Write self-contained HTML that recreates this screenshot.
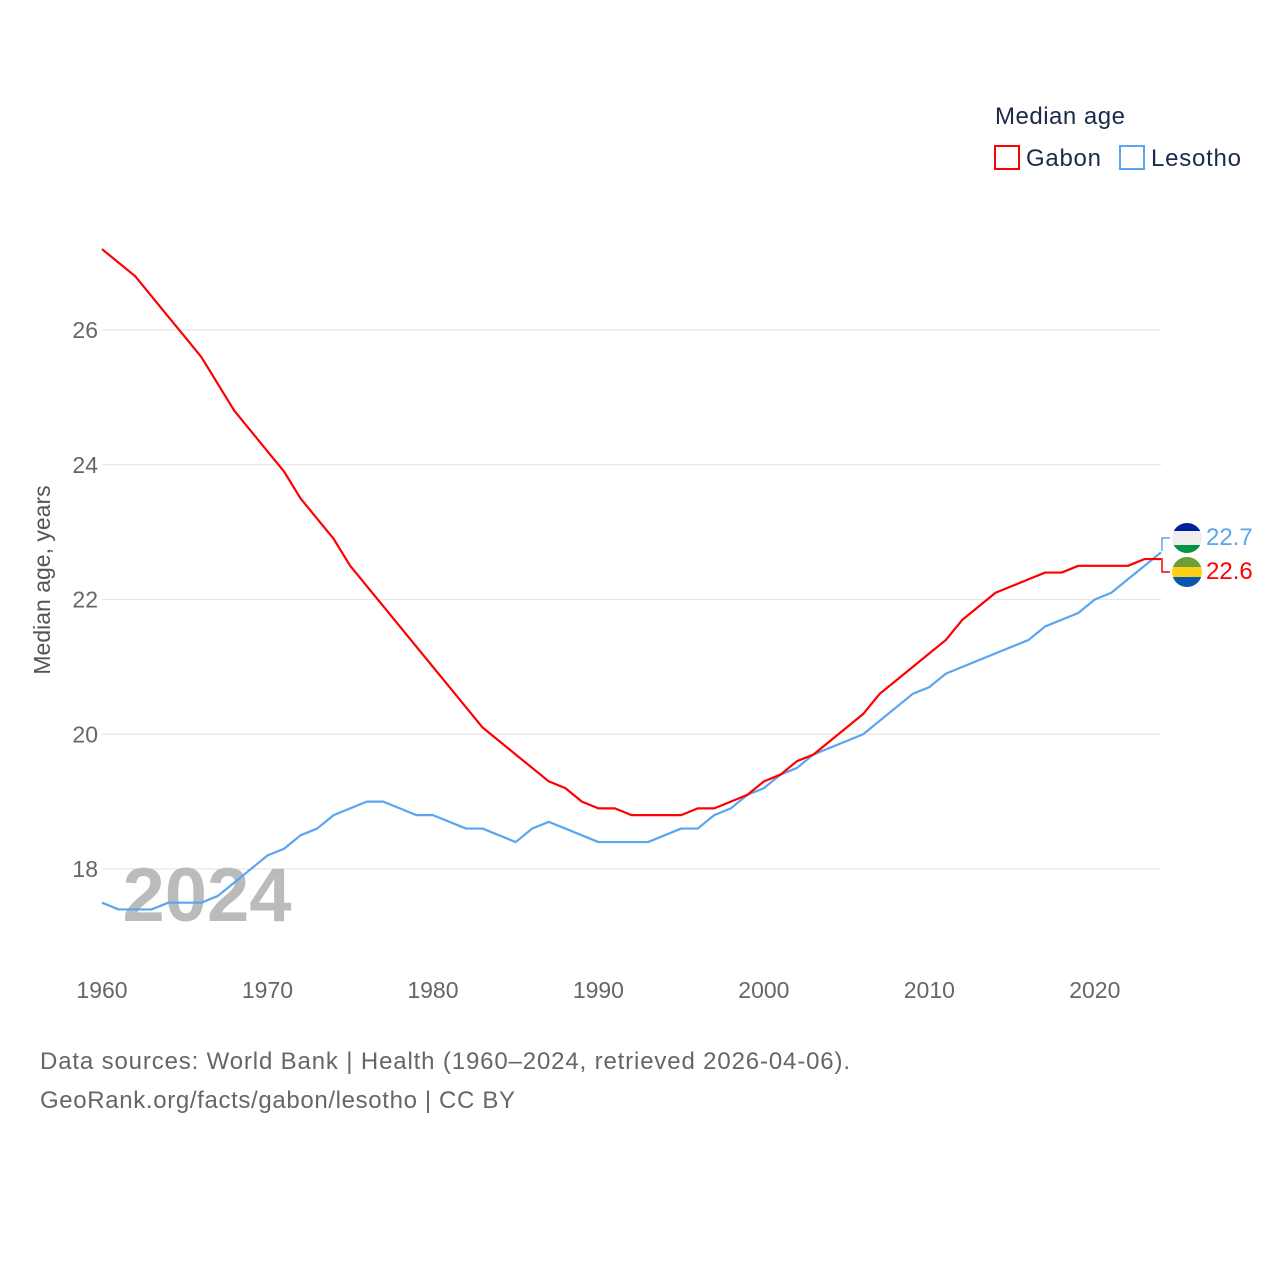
<!DOCTYPE html>
<html><head><meta charset="utf-8"><style>
body{margin:0;background:#fff;width:1280px;height:1280px;overflow:hidden;font-family:"Liberation Sans",sans-serif}
</style></head><body>
<svg id="chart" width="1280" height="1280" xmlns="http://www.w3.org/2000/svg" style="font-family:'Liberation Sans',sans-serif">
<g id="grid"></g>
<g id="yticks"></g>
<g id="xticks"></g>
<text x="207" y="921" font-size="76" font-weight="bold" fill="#bbb" text-anchor="middle">2024</text>
<text transform="translate(50,580) rotate(-90)" font-size="23" fill="#555" text-anchor="middle">Median age, years</text>
<g id="lines"></g>
<g>
<text x="995" y="124" font-size="24" fill="#1a2a4a" textLength="130">Median age</text>
<g><rect x="995" y="146" width="24" height="23" fill="none" stroke="#f00" stroke-width="2"/><text x="1026" y="166" font-size="24" fill="#1a2a4a" textLength="75">Gabon</text></g>
<g><rect x="1120" y="146" width="24" height="23" fill="none" stroke="#5aa5f0" stroke-width="2"/><text x="1151" y="166" font-size="24" fill="#1a2a4a" textLength="90">Lesotho</text></g>
</g>
<g>
<circle cx="1187" cy="538" r="15" fill="#eee"/>
<clipPath id="c1"><circle cx="1187" cy="538" r="15"/></clipPath>
<rect x="1172" y="523" width="30" height="8" fill="#00209f" clip-path="url(#c1)"/>
<rect x="1172" y="545" width="30" height="8" fill="#009543" clip-path="url(#c1)"/>
<circle cx="1187" cy="572" r="15" fill="#fcd116"/>
<clipPath id="c2"><circle cx="1187" cy="572" r="15"/></clipPath>
<rect x="1172" y="557" width="30" height="10" fill="#6a9f3a" clip-path="url(#c2)"/>
<rect x="1172" y="577" width="30" height="10" fill="#0a57b0" clip-path="url(#c2)"/>
<text x="1206" y="545" font-size="24" fill="#5aa5f0">22.7</text>
<text x="1206" y="579" font-size="24" fill="#f00">22.6</text>
<path d="M1162,551 V538 H1170" fill="none" stroke="#5aa5f0" stroke-width="1.5"/>
<path d="M1162,558 V572 H1170" fill="none" stroke="#f00" stroke-width="1.5"/>
</g>
<text x="40" y="1069" font-size="24" fill="#666" textLength="810">Data sources: World Bank | Health (1960–2024, retrieved 2026-04-06).</text>
<text x="40" y="1108" font-size="24" fill="#666" textLength="475">GeoRank.org/facts/gabon/lesotho | CC BY</text>
</svg>
<script>
const years=[];for(let y=1960;y<=2024;y++)years.push(y);
const gabon=[27.2,27.0,26.8,26.5,26.2,25.9,25.6,25.2,24.8,24.5,24.2,23.9,23.5,23.2,22.9,22.5,22.2,21.9,21.6,21.3,21.0,20.7,20.4,20.1,19.9,19.7,19.5,19.3,19.2,19.0,18.9,18.9,18.8,18.8,18.8,18.8,18.9,18.9,19.0,19.1,19.3,19.4,19.6,19.7,19.9,20.1,20.3,20.6,20.8,21.0,21.2,21.4,21.7,21.9,22.1,22.2,22.3,22.4,22.4,22.5,22.5,22.5,22.5,22.6,22.6];
const lesotho=[17.5,17.4,17.4,17.4,17.5,17.5,17.5,17.6,17.8,18.0,18.2,18.3,18.5,18.6,18.8,18.9,19.0,19.0,18.9,18.8,18.8,18.7,18.6,18.6,18.5,18.4,18.6,18.7,18.6,18.5,18.4,18.4,18.4,18.4,18.5,18.6,18.6,18.8,18.9,19.1,19.2,19.4,19.5,19.7,19.8,19.9,20.0,20.2,20.4,20.6,20.7,20.9,21.0,21.1,21.2,21.3,21.4,21.6,21.7,21.8,22.0,22.1,22.3,22.5,22.7];
const yTicks=[18,20,22,24,26];
const xTicks=[1960,1970,1980,1990,2000,2010,2020];
const NS="http://www.w3.org/2000/svg";
const x=v=>102+(v-1960)*(1161-102)/64;
const y=v=>869-(v-18)*(869-330)/8;
function mk(tag,attrs,parent){const e=document.createElementNS(NS,tag);for(const k in attrs)e.setAttribute(k,attrs[k]);parent.appendChild(e);return e;}
const grid=document.getElementById('grid'),yt=document.getElementById('yticks'),xt=document.getElementById('xticks'),lines=document.getElementById('lines');
yTicks.forEach(t=>{
 const l=mk('line',{x1:102,x2:1161,y1:y(t),y2:y(t),stroke:'#e6e6e6','stroke-width':1.2},grid);
 
 
 const tx=mk('text',{x:98,y:y(t)+8,'font-size':23,fill:'#666','text-anchor':'end'},yt);tx.textContent=t;
 
 
});
xTicks.forEach(t=>{
 const tx=mk('text',{x:x(t),y:998,'font-size':23,fill:'#666','text-anchor':'middle'},xt);tx.textContent=t;
 
 
});
function line(vals,color,name){
 const p=mk('polyline',{points:vals.map((v,i)=>x(years[i])+','+y(v)).join(' '),fill:'none',stroke:color,'stroke-width':2.2,'stroke-linejoin':'round'},lines);
 
 
}
line(lesotho,'#5aa5f0','lesotho-line');
line(gabon,'#f00','gabon-line');
</script>
</body></html>
